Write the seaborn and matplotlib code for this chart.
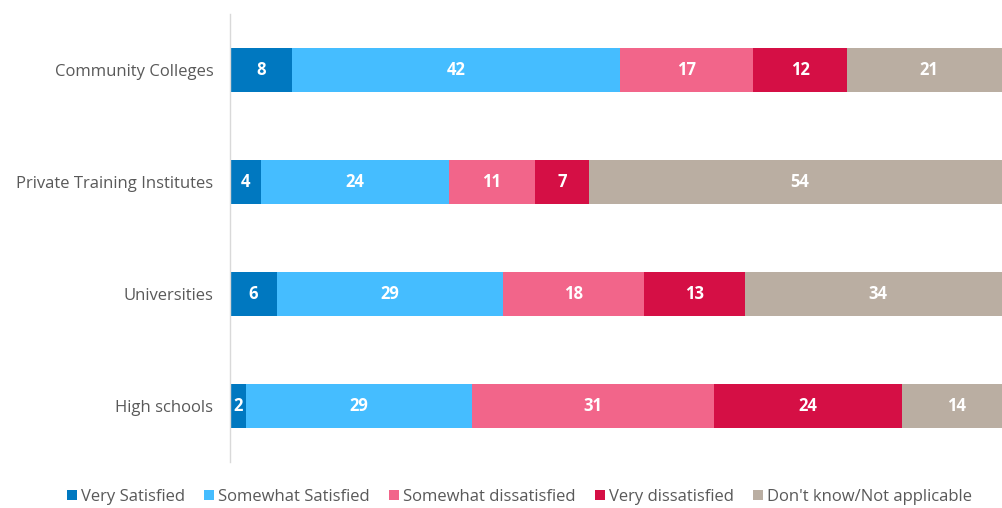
import numpy as np
import pandas as pd
import seaborn as sns
import matplotlib
matplotlib.use("Agg")
import matplotlib.pyplot as plt
from matplotlib.patches import Patch

categories = ["Community Colleges", "Private Training Institutes", "Universities", "High schools"]
series = ["Very Satisfied", "Somewhat Satisfied", "Somewhat dissatisfied", "Very dissatisfied", "Don't know/Not applicable"]
very_satisfied = [8, 4, 6, 2]
somewhat_satisfied = [42, 24, 29, 29]
somewhat_dissatisfied = [17, 11, 18, 31]
very_dissatisfied = [12, 7, 13, 24]
dont_know = [21, 54, 34, 14]
colors = ["#0078C0", "#45BDFF", "#F2658A", "#D50F45", "#BAAEA2"]

values = [very_satisfied, somewhat_satisfied, somewhat_dissatisfied, very_dissatisfied, dont_know]

sns.set_theme(style="white")
plt.rcParams['font.family'] = ['Open Sans', 'DejaVu Sans']

fig = plt.figure(figsize=(10.03, 5.08), dpi=100)
ax = fig.add_axes([230/1003, 1 - 462/508, 781/1003, 448/508])

cum = np.cumsum(np.array(values), axis=0)
for i in range(len(series) - 1, -1, -1):
    df = pd.DataFrame({"cat": categories, "val": cum[i]})
    sns.barplot(data=df, y="cat", x="val", color=colors[i], orient="h",
                width=0.4, ax=ax, saturation=1, linewidth=0)

starts = np.vstack([np.zeros(len(categories)), cum[:-1]])
for i in range(len(series)):
    for j in range(len(categories)):
        v = values[i][j]
        ax.text(starts[i][j] + v / 2, j, str(v), ha="center", va="center",
                color="white", fontsize=12, fontweight="bold")

ax.set_xlim(0, 100)
ax.set_ylim(3.5, -0.5)
ax.set_xlabel("")
ax.set_ylabel("")
ax.set_xticks([])
ax.tick_params(axis="y", length=0, labelsize=12, labelcolor="#595959", pad=12)
for s in ["top", "right", "bottom"]:
    ax.spines[s].set_visible(False)
ax.spines["left"].set_color("#D9D9D9")
ax.spines["left"].set_linewidth(1)

handles = [Patch(facecolor=c, edgecolor="none") for c in colors]
fig.legend(handles, series, loc="center", bbox_to_anchor=(0.518, 1 - 497/508), ncol=5,
           frameon=False, fontsize=12, handlelength=0.6, handleheight=0.6,
           handletextpad=0.25, columnspacing=1.15, labelcolor="#595959")

fig.savefig("out.png", dpi=100)
